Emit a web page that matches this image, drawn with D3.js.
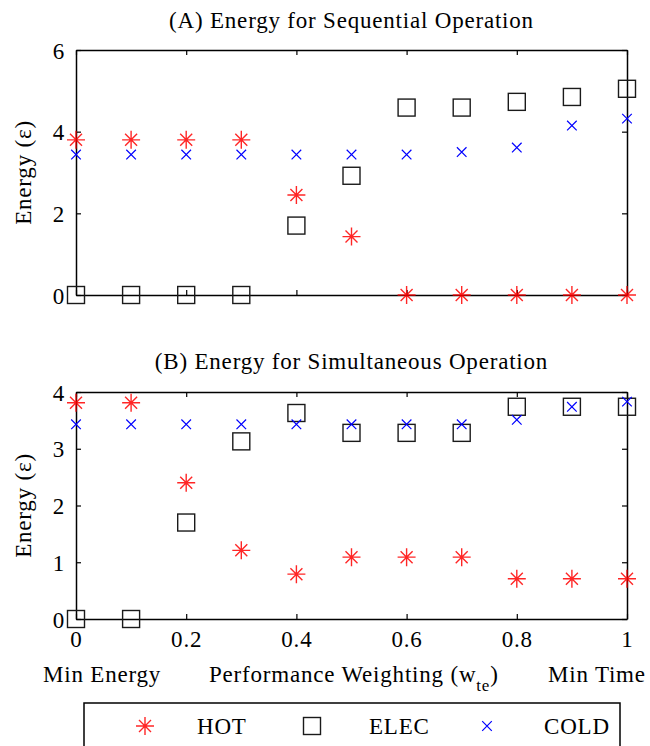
<!DOCTYPE html>
<html>
<head>
<meta charset="utf-8">
<script src="https://cdn.jsdelivr.net/npm/d3@7"></script>
<style>
  html, body { margin: 0; padding: 0; background: #fff; }
  svg { display: block; }
  svg text { font-family: "Liberation Serif", "Times New Roman", serif; }
</style>
</head>
<body>
<svg id="chart" width="650" height="746"></svg>
<script>
// Performance weighting w_te, from minimum energy (0) to minimum time (1)
const weights = [0, 0.1, 0.2, 0.3, 0.4, 0.5, 0.6, 0.7, 0.8, 0.9, 1.0];

// (A) Sequential operation energies
const seqHot  = [3.8, 3.8, 3.8, 3.8, 2.45, 1.43, 0, 0, 0, 0, 0];
const seqElec = [0, 0, 0, 0, 1.70, 2.92, 4.59, 4.59, 4.73, 4.85, 5.05];
const seqCold = [3.44, 3.44, 3.44, 3.44, 3.44, 3.44, 3.44, 3.50, 3.61, 4.15, 4.32];

// (B) Simultaneous operation energies
const simHot  = [3.81, 3.81, 2.40, 1.21, 0.79, 1.09, 1.09, 1.09, 0.71, 0.71, 0.71];
const simElec = [0, 0, 1.70, 3.13, 3.63, 3.28, 3.28, 3.28, 3.74, 3.74, 3.74];
const simCold = [3.43, 3.43, 3.43, 3.43, 3.43, 3.43, 3.43, 3.43, 3.51, 3.74, 3.83];

const xTicks = [0, 0.2, 0.4, 0.6, 0.8, 1];
const yTicksA = [0, 2, 4, 6];
const yTicksB = [0, 1, 2, 3, 4];

const titles = ["(A) Energy for Sequential Operation", "(B) Energy for Simultaneous Operation"];
const yLabel = "Energy (\u03b5)";
const seriesNames = ["HOT", "ELEC", "COLD"];

const svg = d3.select("#chart");
const FONT = 23;
const SERIF = "Liberation Serif, Times New Roman, serif";
const SPACING = 0.8;
const left = 76, right = 627;

const x = d3.scaleLinear().domain([0, 1]).range([left, right]);

// plain serif text helper
function label(g, px, py, str, anchor) {
  return g.append("text").attr("x", px).attr("y", py)
    .attr("text-anchor", anchor || "start")
    .attr("font-family", SERIF).attr("font-size", FONT)
    .attr("letter-spacing", SPACING).attr("fill", "#000").text(str);
}

// marker shapes
const starPath = (r, d) => `M${-r},0L${r},0M0,${-r}L0,${r}M${-d},${-d}L${d},${d}M${-d},${d}L${d},${-d}`;
const crossPath = r => `M${-r},${-r}L${r},${r}M${-r},${r}L${r},${-r}`;

function drawStar(g, cx, cy) {
  g.append("path").attr("transform", `translate(${cx},${cy})`)
    .attr("d", starPath(9, 6))
    .attr("fill", "none").attr("stroke", "#ff0000")
    .attr("stroke-width", 1.4).attr("stroke-opacity", 0.85);
}
function drawSquare(g, cx, cy) {
  g.append("rect").attr("x", cx - 8.5).attr("y", cy - 8.5)
    .attr("width", 17).attr("height", 17)
    .attr("fill", "none").attr("stroke", "#1a1a1a").attr("stroke-width", 1.4);
}
function drawCross(g, cx, cy) {
  g.append("path").attr("transform", `translate(${cx},${cy})`)
    .attr("d", crossPath(4.8))
    .attr("fill", "none").attr("stroke", "#0000ff").attr("stroke-width", 1.2);
}

function panel(top, bottom, yMax, yTicks, hot, elec, cold, title, titleY, showXLabels) {
  const y = d3.scaleLinear().domain([0, yMax]).range([bottom, top]);
  const g = svg.append("g");

  // title
  label(g, (left + right) / 2, titleY, title, "middle");

  // y-axis label
  g.append("text")
    .attr("transform", `translate(31,${(top + bottom) / 2}) rotate(-90)`)
    .attr("text-anchor", "middle").attr("font-family", SERIF).attr("font-size", FONT)
    .attr("letter-spacing", SPACING).text(yLabel);

  // axes with inward ticks on all four sides
  const axL = g.append("g").attr("transform", `translate(${left},0)`)
    .call(d3.axisLeft(y).tickValues(yTicks).tickSize(-5).tickSizeOuter(0).tickPadding(11).tickFormat(d3.format("d")));
  const axR = g.append("g").attr("transform", `translate(${right},0)`)
    .call(d3.axisRight(y).tickValues(yTicks).tickSize(-5).tickSizeOuter(0).tickFormat(""));
  const axT = g.append("g").attr("transform", `translate(0,${top})`)
    .call(d3.axisTop(x).tickValues(xTicks).tickSize(-5).tickSizeOuter(0).tickFormat(""));
  const axB = g.append("g").attr("transform", `translate(0,${bottom})`)
    .call(d3.axisBottom(x).tickValues(xTicks).tickSize(-5).tickSizeOuter(0).tickPadding(12)
      .tickFormat(showXLabels ? (d => d === 0 || d === 1 ? String(d) : d.toFixed(1)) : ""));

  [axL, axR, axT, axB].forEach(a => {
    a.attr("font-family", SERIF).attr("font-size", FONT);
    a.select(".domain").attr("stroke", "#000").attr("stroke-width", 1.5);
    a.selectAll(".tick line").attr("stroke", "#000").attr("stroke-width", 1.2);
    a.selectAll("text").attr("font-size", FONT).attr("fill", "#000")
      .attr("font-family", SERIF).attr("letter-spacing", SPACING);
  });
  axL.selectAll("text").attr("dy", "0.35em");

  // data markers
  const m = g.append("g");
  weights.forEach((w, i) => drawStar(m, x(w), y(hot[i])));
  weights.forEach((w, i) => drawSquare(m, x(w), y(elec[i])));
  weights.forEach((w, i) => drawCross(m, x(w), y(cold[i])));
}

panel(50, 295, 6, yTicksA, seqHot, seqElec, seqCold, titles[0], 28, false);
panel(392, 619, 4, yTicksB, simHot, simElec, simCold, titles[1], 369, true);

// x-axis caption line
const cap = svg.append("g");
label(cap, 43, 682, "Min Energy");
const perf = label(cap, 209, 682, "");
perf.append("tspan").text("Performance Weighting (w");
perf.append("tspan").attr("font-size", 17).attr("dy", 9).text("te");
perf.append("tspan").attr("dy", -9).text(")");
label(cap, 548, 682, "Min Time");

// legend
const lg = svg.append("g");
lg.append("rect").attr("x", 84).attr("y", 703).attr("width", 536).attr("height", 80)
  .attr("fill", "#fff").attr("stroke", "#000").attr("stroke-width", 1.5);
const ly = 726;
drawStar(lg, 145, ly);
drawSquare(lg, 312, ly);
drawCross(lg, 487, ly);
const lx = [197, 369, 544];
seriesNames.forEach((n, i) => label(lg, lx[i], ly + 8, n));
</script>
</body>
</html>
